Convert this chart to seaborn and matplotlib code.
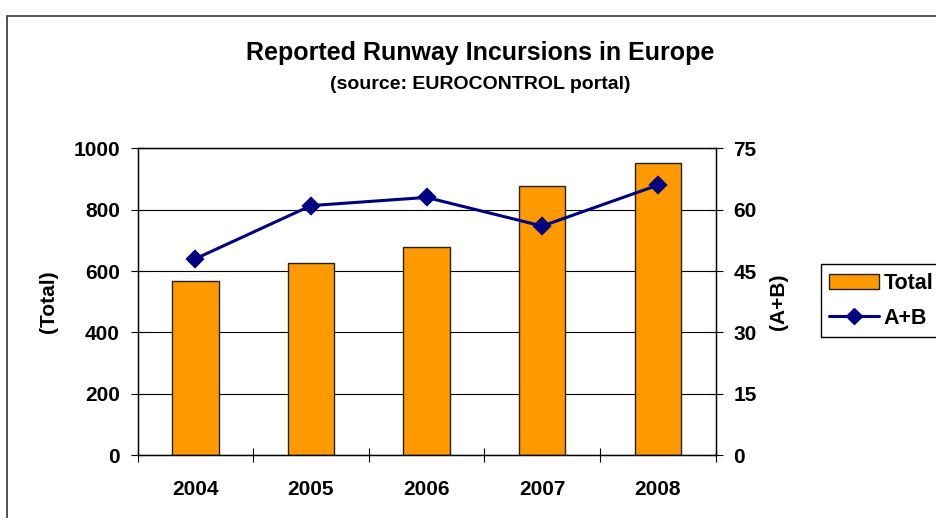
import matplotlib
matplotlib.use('Agg')
import matplotlib.pyplot as plt
import seaborn as sns
from matplotlib.patches import Patch, Rectangle
from matplotlib.lines import Line2D
from matplotlib.ticker import FixedLocator

# data
years = ['2004', '2005', '2006', '2007', '2008']
total = [566, 627, 679, 878, 952]
ab = [48, 61, 63, 56, 66]
left_ticks = [0, 200, 400, 600, 800, 1000]
right_ticks = [0, 15, 30, 45, 60, 75]

sns.set_theme(style='white')
plt.rcParams['font.family'] = ['Liberation Sans', 'DejaVu Sans']
plt.rcParams['font.weight'] = 'bold'
plt.rcParams['text.color'] = 'black'
plt.rcParams['axes.labelcolor'] = 'black'
plt.rcParams['xtick.color'] = 'black'
plt.rcParams['ytick.color'] = 'black'

orange = '#FF9900'
navy = '#000080'

fig = plt.figure(figsize=(9.36, 5.18), dpi=100)
ax = fig.add_axes([0.147, 0.1216, 0.6175, 0.592])

# bars (Total)
sns.barplot(x=years, y=total, ax=ax, color=orange, width=0.4,
            edgecolor='#222222', linewidth=1.0, saturation=1)

# line (A+B) on secondary axis
ax2 = ax.twinx()
sns.pointplot(x=years, y=ab, ax=ax2, color=navy, markers='D',
              markersize=8.5, linewidth=2.2, errorbar=None)

ax.set_ylim(0, 1000)
ax.set_yticks(left_ticks)
ax2.set_ylim(0, 75)
ax2.set_yticks(right_ticks)
ax.set_xlim(-0.5, len(years) - 0.5)

# gridlines behind bars
ax.yaxis.grid(True, color='black', linewidth=0.8)
ax.set_axisbelow(True)
ax2.grid(False)

for a in (ax, ax2):
    for s in a.spines.values():
        s.set_color('black')
        s.set_linewidth(0.9)

# ticks
ax.set_xticks(range(len(years)))
ax.set_xticklabels(years)
ax.xaxis.set_minor_locator(FixedLocator([i - 0.5 for i in range(len(years) + 1)]))
ax.tick_params(axis='x', which='major', length=0, pad=18, labelsize=15)
ax.tick_params(axis='x', which='minor', bottom=True, direction='inout',
               length=10, width=0.8, color='black')
ax.tick_params(axis='y', left=True, direction='inout', length=9.5,
               width=0.8, color='black', pad=8, labelsize=15)
ax2.tick_params(axis='y', right=True, direction='inout', length=9.5,
                width=0.8, color='black', pad=8, labelsize=15)

ax.set_xlabel('')
ax.set_ylabel('(Total)', fontsize=15, fontweight='bold')
ax2.set_ylabel('(A+B)', fontsize=15, fontweight='bold')
ax.yaxis.set_label_coords(-0.137, 0.5)
ax2.yaxis.set_label_coords(1.093, 0.5)

# titles
fig.text(0.513, 0.884, 'Reported Runway Incursions in Europe', ha='center',
         va='baseline', fontsize=18, fontweight='bold')
fig.text(0.513, 0.8276, '(source: EUROCONTROL portal)', ha='center',
         va='baseline', fontsize=14, fontweight='bold')

# legend
handles = [Patch(facecolor=orange, edgecolor='#222222', label='Total'),
           Line2D([], [], color=navy, marker='D', markersize=8.5,
                  linewidth=2.2, label='A+B')]
leg = fig.legend(handles=handles, loc='upper left', bbox_to_anchor=(0.877, 0.4904),
                 frameon=True, fancybox=False, edgecolor='black', framealpha=1,
                 prop={'weight': 'bold', 'size': 15.5}, handlelength=2.3,
                 handletextpad=0.2, borderpad=0.4, labelspacing=0.65,
                 borderaxespad=0)
leg.get_frame().set_linewidth(1.0)

# outer chart border (runs off right and bottom)
fig.patches.append(Rectangle((0.0075, -0.5), 2, 0.5 + 0.970, transform=fig.transFigure,
                             fill=False, edgecolor='#333333', linewidth=1.2))

fig.savefig('out.png', dpi=100)
